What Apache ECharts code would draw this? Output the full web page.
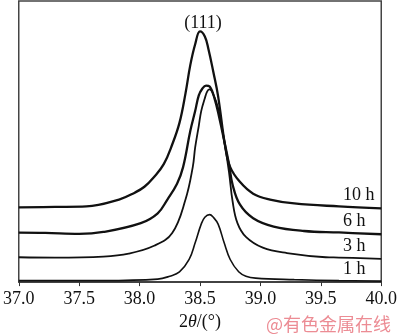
<!DOCTYPE html>
<html>
<head>
<meta charset="utf-8">
<script src="https://cdn.jsdelivr.net/npm/echarts@6/dist/echarts.min.js"></script>
<style>html,body{margin:0;padding:0;background:#fff;}#c{width:400px;height:336px;}</style>
</head>
<body>
<div id="c"></div>
<script>
// 2θ (degrees) and intensity (a.u.)
const seriesNames = ['1 h', '3 h', '6 h', '10 h'];
const peakLabel = '(111)';
const xTicks = [37.0, 37.5, 38.0, 38.5, 39.0, 39.5, 40.0];

const theta1h = [37.00,37.70,38.15,38.25,38.33,38.41,38.46,38.51,38.54,38.58,38.61,38.65,38.70,38.75,38.82,38.88,38.96,39.28,39.65,40.00];
const int1h   = [1.5,1.5,3,6,10.3,23,40,59,66,68.7,66,59,40,23,10.5,6,4,2.5,1.5,1];

const theta3h = [37.00,37.30,37.70,37.91,38.12,38.27,38.38,38.44,38.46,38.49,38.51,38.54,38.56,38.58,38.61,38.65,38.70,38.74,38.77,38.81,38.88,39.02,39.22,39.54,39.65,40.00];
const int3h   = [25.3,25,26,29,37,50,84,117,137,159,174,187,194,196,191,177,144,112,82,60,46,35,29.5,25.3,25,23.7];

const theta6h = [37.00,37.22,37.50,37.70,38.01,38.15,38.23,38.31,38.36,38.42,38.46,38.49,38.52,38.55,38.58,38.62,38.66,38.70,38.74,38.77,38.83,38.94,39.11,39.36,39.65,40.00];
const int6h   = [50.3,50,49,51,60,70,84,100,117,154,174,190,197,200,199,187,167,144,120,99,79,65,56.5,52,50.5,48.7];

const theta10h = [37.00,37.30,37.56,37.83,37.96,38.04,38.12,38.20,38.27,38.33,38.38,38.42,38.46,38.50,38.54,38.57,38.61,38.65,38.71,38.75,38.83,38.94,39.08,39.28,39.65,40.00];
const int10h   = [76,76.5,77,84,91,97,107,120,140,162,192,221,242,255,250,237,214,189,137,117,102,90,84,80,77,75];

const labelTheta = 39.65;

const serif = 'Liberation Serif';
const ink = '#111';

function build(thetas, ints, name, withPeak) {
  const peakIdx = ints.indexOf(Math.max.apply(null, ints));
  return thetas.map((t, i) => {
    if (t === labelTheta) {
      return {
        value: [t, ints[i]], symbol: 'circle', symbolSize: 1,
        itemStyle: {color: 'rgba(0,0,0,0)', borderWidth: 0},
        label: {show: true, position: 'top', align: 'left', distance: 2, offset: [4, 0], formatter: name,
                fontFamily: serif, fontSize: 18, color: ink}
      };
    }
    if (withPeak && i === peakIdx) {
      return {
        value: [t, ints[i]], symbol: 'circle', symbolSize: 1,
        itemStyle: {color: 'rgba(0,0,0,0)', borderWidth: 0},
        label: {show: true, position: 'top', distance: -1, offset: [3, 0], formatter: peakLabel,
                fontFamily: serif, fontSize: 18, color: ink}
      };
    }
    return [t, ints[i]];
  });
}

const sets = [
  [theta1h, int1h, 1.6],
  [theta3h, int3h, 1.8],
  [theta6h, int6h, 2.3],
  [theta10h, int10h, 2.3]
];

const series = sets.map((s, k) => ({
  type: 'line',
  name: seriesNames[k],
  data: build(s[0], s[1], seriesNames[k], k === 3),
  symbol: 'none',
  smooth: 0.4,
  silent: true,
  animation: false,
  lineStyle: {color: ink, width: s[2]},
  z: 3
}));

const chart = echarts.init(document.getElementById('c'), null, {renderer: 'canvas'});
chart.setOption({
  animation: false,
  backgroundColor: '#fff',
  grid: {left: 12, right: 9, top: 1, bottom: 49, show: true, borderColor: '#444', borderWidth: 1.5},
  xAxis: {
    type: 'value', min: xTicks[0], max: xTicks[xTicks.length - 1], interval: 0.5,
    axisLine: {show: true, lineStyle: {color: '#333', width: 1.5}},
    axisTick: {show: true, inside: false, length: 4, lineStyle: {color: '#333'}},
    splitLine: {show: false},
    axisLabel: {formatter: v => v.toFixed(1), fontFamily: serif, fontSize: 18, color: ink, margin: 8},
    name: '2{i|θ}/(°)', nameLocation: 'middle', nameGap: 29,
    nameTextStyle: {fontFamily: serif, fontSize: 18, color: ink,
      rich: {i: {fontFamily: serif, fontSize: 18, fontStyle: 'italic', color: ink}}}
  },
  yAxis: {type: 'value', min: 0, max: 286, show: false},
  series: series,
  graphic: [{
    type: 'text', right: 9, bottom: 3,
    style: {text: '@有色金属在线', fontFamily: 'Noto Sans CJK SC', fontSize: 18, fill: '#ec8c94'}
  }]
});
</script>
</body>
</html>
